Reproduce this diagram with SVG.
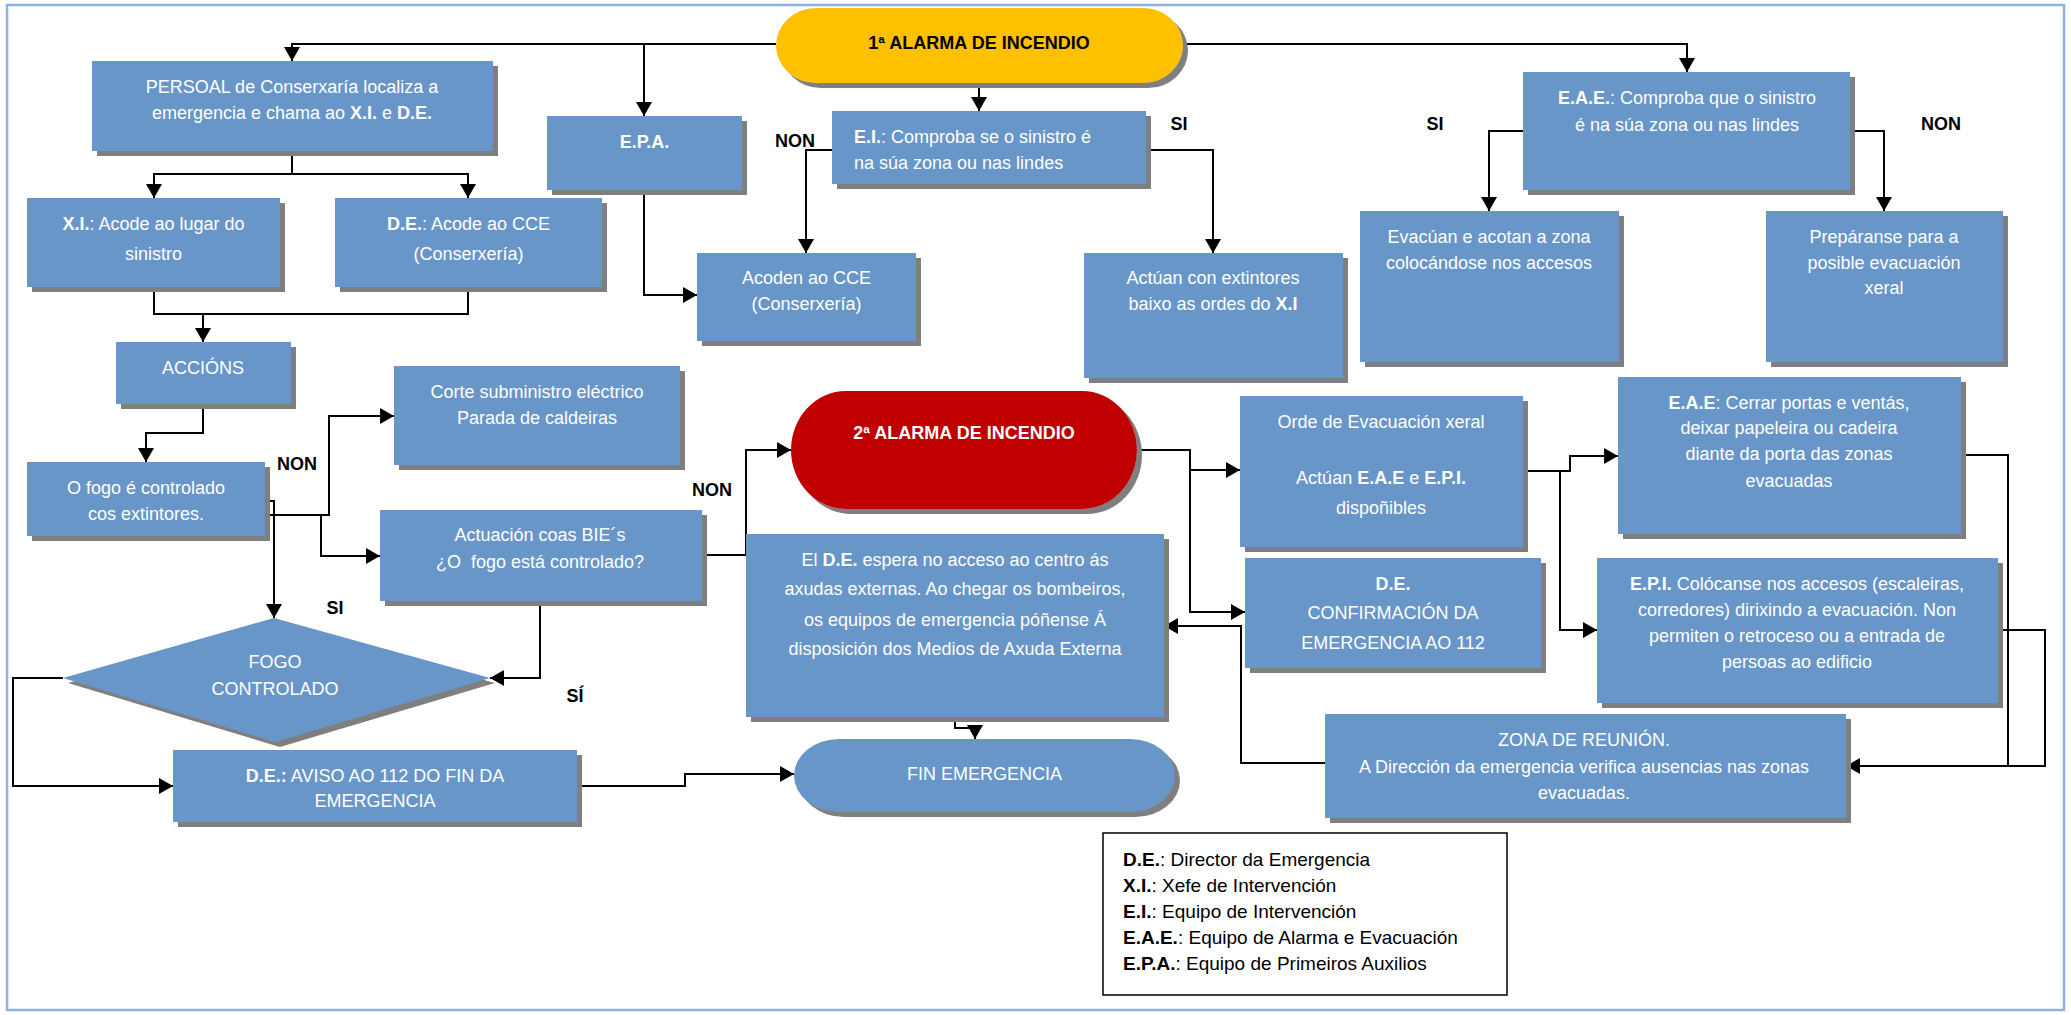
<svg xmlns="http://www.w3.org/2000/svg" width="2071" height="1015" viewBox="0 0 2071 1015">
<defs>
<style>
.box{fill:#6996C8;filter:url(#sh)}
.t{font-family:'Liberation Sans',Arial,sans-serif;font-size:18px;fill:#fff;text-anchor:middle}
.tl{text-anchor:start}
.b{font-weight:bold}
.lbl{font-family:'Liberation Sans',Arial,sans-serif;font-size:18px;font-weight:bold;fill:#000;text-anchor:middle}
.lg{font-family:'Liberation Sans',Arial,sans-serif;font-size:19px;fill:#000}
.c{fill:none;stroke:#000;stroke-width:2}
.a{marker-end:url(#ar)}
</style>
<filter id="sh" x="-5%" y="-5%" width="115%" height="120%">
<feFlood flood-color="#7F7F7F" result="f"/>
<feComposite in="f" in2="SourceAlpha" operator="in" result="s"/>
<feOffset in="s" dx="5" dy="5" result="o"/>
<feMerge><feMergeNode in="o"/><feMergeNode in="SourceGraphic"/></feMerge>
</filter>
<marker id="ar" markerUnits="userSpaceOnUse" markerWidth="16" markerHeight="16" refX="14" refY="8" orient="auto">
<path d="M0,0 L14,8 L0,16 z" fill="#000"/>
</marker>
</defs>
<rect x="0" y="0" width="2071" height="1015" fill="#fff"/>
<rect x="7" y="5" width="2057" height="1005" fill="none" stroke="#8DB3E2" stroke-width="2.5"/>

<g id="connectors">
<path class="c a" d="M776,44 H292 V61"/>
<path class="c a" d="M644,44 V116"/>
<path class="c a" d="M1183,44 H1687 V72"/>
<path class="c a" d="M979,83 V111"/>
<path class="c" d="M292,151 V174"/>
<path class="c a" d="M292,174 H154 V198"/>
<path class="c a" d="M292,174 H468 V198"/>
<path class="c" d="M154,287 V314 H468 V287"/>
<path class="c a" d="M203,314 V342"/>
<path class="c a" d="M203,404 V433 H146 V462"/>
<path class="c a" d="M644,190 V295 H697"/>
<path class="c a" d="M832,150 H806 V253"/>
<path class="c a" d="M1146,150 H1213 V253"/>
<path class="c a" d="M1523,131 H1489 V211"/>
<path class="c a" d="M1850,131 H1884 V211"/>
<path class="c a" d="M265,501 H274 V618"/>
<path class="c a" d="M265,515 H329 V416 H394"/>
<path class="c a" d="M321,515 V556 H380"/>
<path class="c a" d="M540,601 V678 H490"/>
<path class="c a" d="M63,678 H13 V786 H173"/>
<path class="c a" d="M577,786 H685 V774 H794"/>
<path class="c a" d="M702,555 H746 V450 H791"/>
<path class="c a" d="M1137,450 H1190 V470 H1240"/>
<path class="c a" d="M1190,470 V612 H1245"/>
<path class="c a" d="M1325,763 H1241 V626 H1164"/>
<path class="c a" d="M955,717 V728 H975 V739"/>
<path class="c a" d="M1523,471 H1570 V456 H1618"/>
<path class="c a" d="M1560,471 V630 H1597"/>
<path class="c" d="M1961,455 H2008 V766"/>
<path class="c a" d="M1998,630 H2045 V766 H1846"/>
</g>

<g id="alarma1">
<rect class="box" x="776" y="8" width="407" height="75" rx="40" ry="37.5" style="fill:#FFC000"/>
<text class="lbl" x="979" y="48.5">1ª ALARMA DE INCENDIO</text>
</g>

<g id="persoal">
<rect class="box" x="92" y="61" width="401" height="90"/>
<text class="t" x="292" y="92.5">PERSOAL de Conserxaría localiza a</text>
<text class="t" x="292" y="118.5">emergencia e chama ao <tspan class="b">X.I.</tspan> e <tspan class="b">D.E.</tspan></text>
</g>

<g id="xi">
<rect class="box" x="27" y="198" width="253" height="89"/>
<text class="t" x="153.5" y="229.5"><tspan class="b">X.I.</tspan>: Acode ao lugar do</text>
<text class="t" x="153.5" y="259.5">sinistro</text>
</g>

<g id="de">
<rect class="box" x="335" y="198" width="267" height="89"/>
<text class="t" x="468.5" y="229.5"><tspan class="b">D.E.</tspan>: Acode ao CCE</text>
<text class="t" x="468.5" y="259.5">(Conserxería)</text>
</g>

<g id="epa">
<rect class="box" x="547" y="116" width="195" height="74"/>
<text class="t b" x="644.5" y="147.5">E.P.A.</text>
</g>

<g id="ei">
<rect class="box" x="832" y="111" width="314" height="73"/>
<text class="t tl" x="854" y="142.5"><tspan class="b">E.I.</tspan>: Comproba se o sinistro é</text>
<text class="t tl" x="854" y="168.5">na súa zona ou nas lindes</text>
</g>

<g id="acoden">
<rect class="box" x="697" y="253" width="219" height="88"/>
<text class="t" x="806.5" y="283.5">Acoden ao CCE</text>
<text class="t" x="806.5" y="309.5">(Conserxería)</text>
</g>

<g id="actuan">
<rect class="box" x="1084" y="253" width="259" height="125"/>
<text class="t" x="1213" y="283.5">Actúan con extintores</text>
<text class="t" x="1213" y="309.5">baixo as ordes do <tspan class="b">X.I</tspan></text>
</g>

<g id="eae">
<rect class="box" x="1523" y="72" width="327" height="118"/>
<text class="t" x="1687" y="103.5"><tspan class="b">E.A.E.</tspan>: Comproba que o sinistro</text>
<text class="t" x="1687" y="130.5">é na súa zona ou nas lindes</text>
</g>

<g id="evacuan">
<rect class="box" x="1360" y="211" width="259" height="151"/>
<text class="t" x="1489" y="242.5">Evacúan e acotan a zona</text>
<text class="t" x="1489" y="268.5">colocándose nos accesos</text>
</g>

<g id="preparanse">
<rect class="box" x="1766" y="211" width="237" height="151"/>
<text class="t" x="1884" y="242.5">Prepáranse para a</text>
<text class="t" x="1884" y="268.5">posible evacuación</text>
<text class="t" x="1884" y="293.5">xeral</text>
</g>

<g id="accions">
<rect class="box" x="116" y="342" width="175" height="62"/>
<text class="t" x="203" y="373.5">ACCIÓNS</text>
</g>

<g id="ofogo">
<rect class="box" x="27" y="462" width="238" height="74"/>
<text class="t" x="146" y="493.5">O fogo é controlado</text>
<text class="t" x="146" y="519.5">cos extintores.</text>
</g>

<g id="corte">
<rect class="box" x="394" y="366" width="286" height="99"/>
<text class="t" x="537" y="397.5">Corte subministro eléctrico</text>
<text class="t" x="537" y="423.5">Parada de caldeiras</text>
</g>

<g id="actuacion">
<rect class="box" x="380" y="510" width="322" height="91"/>
<text class="t" x="540" y="540.5">Actuación coas BIE´s</text>
<text class="t" x="540" y="567.5" style="white-space:pre">¿O  fogo está controlado?</text>
</g>

<g id="fogo">
<polygon class="box" points="274,618 490,678 275,742 63,678"/>
<text class="t" x="275" y="667.5">FOGO</text>
<text class="t" x="275" y="694.5">CONTROLADO</text>
</g>

<g id="aviso">
<rect class="box" x="173" y="750" width="404" height="72"/>
<text class="t" x="375" y="781.5"><tspan class="b">D.E.:</tspan> AVISO AO 112 DO FIN DA</text>
<text class="t" x="375" y="806.5">EMERGENCIA</text>
</g>

<g id="alarma2">
<rect class="box" x="791" y="391" width="346" height="118" rx="55" ry="59" style="fill:#C00000"/>
<text class="t b" x="964" y="438.5">2ª ALARMA DE INCENDIO</text>
</g>

<g id="eldeespera">
<rect class="box" x="746" y="534" width="418" height="183"/>
<text class="t" x="955" y="565.5">El <tspan class="b">D.E.</tspan> espera no acceso ao centro ás</text>
<text class="t" x="955" y="594.5">axudas externas. Ao chegar os bombeiros,</text>
<text class="t" x="955" y="625.5">os equipos de emergencia póñense Á</text>
<text class="t" x="955" y="654.5">disposición dos Medios de Axuda Externa</text>
</g>

<g id="fin">
<rect class="box" x="794" y="739" width="381" height="73" rx="45" ry="36.5"/>
<text class="t" x="984.5" y="779.5">FIN EMERGENCIA</text>
</g>

<g id="orde">
<rect class="box" x="1240" y="396" width="283" height="151"/>
<text class="t" x="1381" y="427.5">Orde de Evacuación xeral</text>
<text class="t" x="1381" y="483.5">Actúan <tspan class="b">E.A.E</tspan> e <tspan class="b">E.P.I.</tspan></text>
<text class="t" x="1381" y="513.5">dispoñibles</text>
</g>

<g id="confirmacion">
<rect class="box" x="1245" y="558" width="296" height="110"/>
<text class="t b" x="1393" y="589.5">D.E.</text>
<text class="t" x="1393" y="618.5">CONFIRMACIÓN DA</text>
<text class="t" x="1393" y="648.5">EMERGENCIA AO 112</text>
</g>

<g id="eaecerrar">
<rect class="box" x="1618" y="377" width="343" height="157"/>
<text class="t" x="1789" y="408.5"><tspan class="b">E.A.E</tspan>: Cerrar portas e ventás,</text>
<text class="t" x="1789" y="433.5">deixar papeleira ou cadeira</text>
<text class="t" x="1789" y="459.5">diante da porta das zonas</text>
<text class="t" x="1789" y="486.5">evacuadas</text>
</g>

<g id="epi">
<rect class="box" x="1597" y="558" width="401" height="145"/>
<text class="t" x="1797" y="589.5"><tspan class="b">E.P.I.</tspan> Colócanse nos accesos (escaleiras,</text>
<text class="t" x="1797" y="615.5">corredores) dirixindo a evacuación. Non</text>
<text class="t" x="1797" y="641.5">permiten o retroceso ou a entrada de</text>
<text class="t" x="1797" y="667.5">persoas ao edificio</text>
</g>

<g id="zona">
<rect class="box" x="1325" y="714" width="521" height="104"/>
<text class="t" x="1584" y="745.5">ZONA DE REUNIÓN.</text>
<text class="t" x="1584" y="772.5">A Dirección da emergencia verifica ausencias nas zonas</text>
<text class="t" x="1584" y="798.5">evacuadas.</text>
</g>

<g id="labels">
<text class="lbl" x="795" y="146.5">NON</text>
<text class="lbl" x="1179" y="129.5">SI</text>
<text class="lbl" x="1435" y="129.5">SI</text>
<text class="lbl" x="1941" y="129.5">NON</text>
<text class="lbl" x="297" y="469.5">NON</text>
<text class="lbl" x="335" y="613.5">SI</text>
<text class="lbl" x="712" y="495.5">NON</text>
<text class="lbl" x="575" y="701.5">SÍ</text>
</g>

<g id="legend">
<rect x="1103" y="833" width="404" height="162" fill="#fff" stroke="#000" stroke-width="1.5"/>
<text class="lg" x="1123" y="866"><tspan class="b">D.E.</tspan>: Director da Emergencia</text>
<text class="lg" x="1123" y="892"><tspan class="b">X.I.</tspan>: Xefe de Intervención</text>
<text class="lg" x="1123" y="918"><tspan class="b">E.I.</tspan>: Equipo de Intervención</text>
<text class="lg" x="1123" y="944"><tspan class="b">E.A.E.</tspan>: Equipo de Alarma e Evacuación</text>
<text class="lg" x="1123" y="970"><tspan class="b">E.P.A.</tspan>: Equipo de Primeiros Auxilios</text>
</g>
</svg>
